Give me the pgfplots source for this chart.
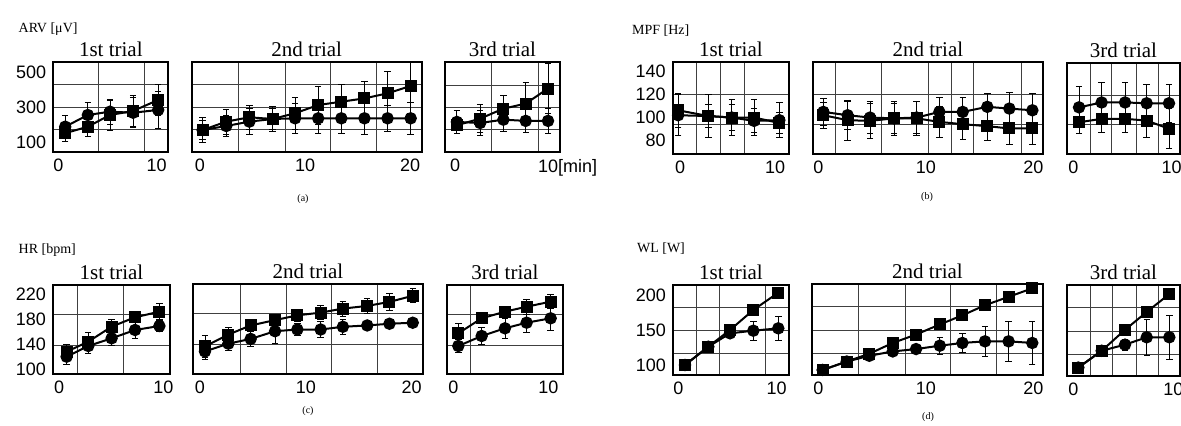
\documentclass[border=0pt]{standalone}
\usepackage{fontspec}
\setmainfont{Liberation Serif}
\newfontfamily\sansf{Liberation Sans}
\usepackage{pgfplots}
\pgfplotsset{compat=1.18}

\newcommand\tickf{\sansf\fontsize{9}{10}\selectfont}
\newcommand\titlef{\fontsize{10.5}{11}\selectfont}

\pgfplotsset{
  trial/.style={scale only axis, anchor=south west,
    axis line style={line width=0.85pt},
    tick style={draw=none},
    grid=major, grid style={line width=0.3pt, black!75},
    xticklabels={}, yticklabels={},
    extra x tick style={grid=none},
    extra y tick style={grid=none},
    tick label style={font=\tickf},
    /pgf/number format/assume math mode=true,
    title style={font=\titlef, at={(0.5,1)}, anchor=south, inner sep=1.5pt, yshift=-5pt}},
  ser/.style={black, line width=1pt, mark=square*, mark size=2.5pt},
  eb/.style={error bars/y dir=both, error bars/y explicit,
    error bars/error bar style={line width=0.45pt},
    error bars/error mark options={rotate=90, mark size=1.6pt, line width=0.45pt}},
  sq/.style={ser, eb},
  ci/.style={ser, eb, mark=*, mark size=2.6pt},
  tenmin/.style={extra x ticks={0,10}, extra x tick labels={0,10}},
  twentymin/.style={extra x ticks={0,10,20}, extra x tick labels={0,10,20}},
}

\begin{document}
\begin{tikzpicture}
\useasboundingbox (0,0) rectangle (590.5pt,213pt);

% ---------------- (a) ARV ----------------
\node[anchor=west, font=\fontsize{7}{8}\selectfont] at (5.8pt,198.5pt) {ARV [μV]};
\begin{axis}[trial, tenmin, at={(26.65pt,137.15pt)}, width=57.5pt, height=45pt,
  xmin=-0.51, xmax=11.18, ymin=47, ymax=562,
  xtick={4.1,8.7}, ytick={175,300,430},
  extra y ticks={100,300,500}, extra y tick labels={100,300,500}, title={1st trial}]
\addplot[sq] coordinates {(0.7,153)+-(0,50) (3.0,190)+-(0,57) (5.25,257)+-(0,86) (7.6,280)+-(0,86) (10.15,343)+-(0,86)};
\addplot[ci] coordinates {(0.7,190)+-(0,67) (3.0,257)+-(0,69) (5.25,276)+-(0,71) (7.6,270)+-(0,86) (10.15,286)+-(0,105)};
\end{axis}
\begin{axis}[trial, twentymin, at={(95.85pt,137.15pt)}, width=115pt, height=45pt,
  xmin=-0.79, xmax=21.1, ymin=47, ymax=562,
  xtick={3.65,8.1,12.4,16.8}, ytick={175,300,430}, title={2nd trial}]
\addplot[sq] coordinates {(0.25,171)+-(0,73) (2.5,219)+-(0,71) (4.7,244)+-(0,70) (6.9,234)+-(0,61) (9.05,267)+-(0,91) (11.25,314)+-(0,109) (13.45,333)+-(0,101) (15.65,352)+-(0,99) (17.85,381)+-(0,128) (20.05,423)+-(0,158)};
\addplot[ci] coordinates {(0.25,171)+-(0,53) (2.5,194)+-(0,61) (4.7,219)+-(0,76) (6.9,234)+-(0,72) (9.05,238)+-(0,86) (11.25,238)+-(0,86) (13.45,238)+-(0,86) (15.65,238)+-(0,91) (17.85,238)+-(0,76) (20.05,238)+-(0,90)};
\end{axis}
\begin{axis}[trial, at={(222.5pt,137pt)}, width=57.5pt, height=45pt,
  xmin=-1.08, xmax=11.29, ymin=47, ymax=562,
  xtick={3.9,8.96}, ytick={175,300,430},
  extra x ticks={0,10}, extra x tick labels={0,10\rlap{[min]}}, title={3rd trial}]
\addplot[sq] coordinates {(0.2,200)+-(0,47) (2.7,238)+-(0,80) (5.2,295)+-(0,76) (7.6,324)+-(0,123) (10.0,410)+-(0,142)};
\addplot[ci] coordinates {(0.2,219)+-(0,66) (2.7,213)+-(0,70) (5.2,232)+-(0,70) (7.6,225)+-(0,68) (10.0,225)+-(0,72)};
\end{axis}
\node[font=\fontsize{5}{6}\selectfont] at (151.5pt,113.5pt) {(a)};

% ---------------- (b) MPF ----------------
\node[anchor=west, font=\fontsize{7}{8}\selectfont] at (312.5pt,197.5pt) {MPF [Hz]};
\begin{axis}[trial, tenmin, at={(336.35pt,136pt)}, width=58.15pt, height=46pt,
  xmin=-0.77, xmax=11.47, ymin=68, ymax=148,
  xtick={1.76,4.28,6.74}, ytick={94,120},
  extra y ticks={80,100,120,140}, extra y tick labels={80,100,120,140}, title={1st trial}]
\addplot[sq] coordinates {(-0.2,106)+-(0,15) (2.98,101)+-(0,10) (5.44,99.7)+-(0,16) (7.79,99.7)+-(0,16) (10.45,95)+-(0,9)};
\addplot[ci] coordinates {(-0.2,101.7)+-(0,18) (2.98,101)+-(0,19) (5.44,99.7)+-(0,11) (7.79,96.8)+-(0,10.5) (10.45,97.4)+-(0,15)};
\end{axis}
\begin{axis}[trial, twentymin, at={(406.35pt,136pt)}, width=115.15pt, height=46pt,
  xmin=-0.52, xmax=20.9, ymin=68, ymax=148,
  xtick={1.55,5.9,10.2,12.4,14.4,18.9}, ytick={94,120}, title={2nd trial}]
\addplot[sq] coordinates {(0.47,101.7)+-(0,11.5) (2.73,97.4)+-(0,17.4) (4.81,96.8)+-(0,15.3) (7.04,99)+-(0,13) (9.15,99)+-(0,14.7) (11.26,95.9)+-(0,13.6) (13.43,93.9)+-(0,13.3) (15.72,92.2)+-(0,12.8) (17.77,90.2)+-(0,13.7) (19.91,90.2)+-(0,13.7)};
\addplot[ci] coordinates {(0.47,104.6)+-(0,11.7) (2.73,101.7)+-(0,12.2) (4.81,99.7)+-(0,13.6) (7.04,99)+-(0,15) (9.15,99.7)+-(0,14) (11.26,104.6)+-(0,13) (13.43,104.6)+-(0,13) (15.72,109)+-(0,12) (17.77,107.5)+-(0,13.7) (19.91,106)+-(0,15)};
\end{axis}
\begin{axis}[trial, tenmin, at={(533.5pt,136pt)}, width=56.5pt, height=45.5pt,
  xmin=-0.64, xmax=10.85, ymin=68, ymax=148,
  xtick={1.7,3.9,6.4,8.6}, ytick={94,120}, title={3rd trial}]
\addplot[sq] coordinates {(0.58,95.9)+-(0,10) (2.88,98.9)+-(0,11.7) (5.26,98.9)+-(0,12.4) (7.46,97.4)+-(0,15) (9.73,90.2)+-(0,17.4)};
\addplot[ci] coordinates {(0.58,109)+-(0,18) (2.88,113.3)+-(0,17.4) (5.26,113.3)+-(0,17.4) (7.46,112.6)+-(0,16.7) (9.73,112.6)+-(0,16.7)};
\end{axis}
\node[font=\fontsize{5}{6}\selectfont] at (463.5pt,114.5pt) {(b)};

% ---------------- (c) HR ----------------
\node[anchor=west, font=\fontsize{7}{8}\selectfont] at (5.8pt,88pt) {HR [bpm]};
\begin{axis}[trial, tenmin, at={(26.5pt,26pt)}, width=58.5pt, height=44.5pt,
  xmin=-0.6, xmax=10.64, ymin=92.5, ymax=234.9,
  xtick={1.73,6.2}, ytick={139,188},
  extra y ticks={100,140,180,220}, extra y tick labels={100,140,180,220}, title={1st trial}]
\addplot[sq] coordinates {(0.71,128.2)+-(0,12) (2.79,144.2)+-(0,14) (5.03,168.2)+-(0,12) (7.28,183.2)+-(0,7) (9.62,192.2)+-(0,13)};
\addplot[ci] coordinates {(0.71,120.2)+-(0,13) (2.79,137.3)+-(0,12) (5.03,149.6)+-(0,11) (7.28,162.9)+-(0,13) (9.62,169.3)+-(0,9)};
\end{axis}
\begin{axis}[trial, twentymin, at={(96.5pt,26pt)}, width=115pt, height=45pt,
  xmin=-0.66, xmax=21.07, ymin=92.5, ymax=234.9,
  xtick={3.78,8.13,12.45,16.76}, ytick={139,188}, title={2nd trial}]
\addplot[sq] coordinates {(0.47,136.2)+-(0,17) (2.68,154.9)+-(0,12) (4.79,169.3)+-(0,10) (7.09,177.8)+-(0,9) (9.2,185.3)+-(0,10) (11.4,189.6)+-(0,11) (13.5,196)+-(0,12) (15.8,200.2)+-(0,12) (17.9,206.6)+-(0,13) (20.1,216.2)+-(0,11)};
\addplot[ci] coordinates {(0.47,128.2)+-(0,13) (2.68,140.5)+-(0,10) (4.79,148)+-(0,12) (7.09,160.2)+-(0,19) (9.2,162.9)+-(0,10) (11.4,162.9)+-(0,12) (13.5,167.2)+-(0,12) (15.8,169.3)+-(0,6) (17.9,172)+-(0,4) (20.1,173.6)+-(0,3)};
\end{axis}
\begin{axis}[trial, tenmin, at={(223.5pt,26pt)}, width=58pt, height=44.5pt,
  xmin=-0.66, xmax=11.55, ymin=92.5, ymax=234.9,
  xtick={1.83}, ytick={139,188}, title={3rd trial}]
\addplot[sq] coordinates {(0.53,157.6)+-(0,16) (2.99,181.6)+-(0,8) (5.44,192.2)+-(0,8) (7.72,200.2)+-(0,12) (10.25,208.2)+-(0,11)};
\addplot[ci] coordinates {(0.53,137.3)+-(0,11) (2.99,153.3)+-(0,13) (5.44,165.6)+-(0,16) (7.72,174.6)+-(0,16) (10.25,181.6)+-(0,20)};
\end{axis}
\node[font=\fontsize{5}{6}\selectfont] at (154pt,7.5pt) {(c)};

% ---------------- (d) WL ----------------
\node[anchor=west, font=\fontsize{7}{8}\selectfont] at (315pt,88.5pt) {WL [W]};
\begin{axis}[trial, tenmin, at={(336.5pt,25.5pt)}, width=58pt, height=45pt,
  xmin=-0.54, xmax=11.26, ymin=85.6, ymax=215.4,
  xtick={1.8,4.17,8.82}, ytick={117,150,183},
  extra y ticks={100,150,200}, extra y tick labels={100,150,200}, title={1st trial}]
\addplot[ser] coordinates {(0.68,100) (3.05,126.4) (5.26,150.5) (7.63,179.4) (10.17,204.3)};
\addplot[ci] coordinates {(0.68,100)+-(0,0) (3.05,126.4)+-(0,2) (5.26,145.7)+-(0,6) (7.63,149.5)+-(0,14) (10.17,152.9)+-(0,17)};
\end{axis}
\begin{axis}[trial, twentymin, at={(406pt,25.5pt)}, width=115.5pt, height=45.5pt,
  xmin=-0.59, xmax=20.9, ymin=85.6, ymax=215.4,
  xtick={3.72,8.06,12.3,16.6}, ytick={117,150,183}, title={2nd trial}]
\addplot[ser] coordinates {(0.4,92.8) (2.64,104.8) (4.74,115.9) (6.92,131.3) (9.09,143.3) (11.3,157.7) (13.4,170.7) (15.5,185.1) (17.7,197.1) (19.9,209.2)};
\addplot[ci] coordinates {(0.4,92.8)+-(0,0) (2.64,104.8)+-(0,2) (4.74,113)+-(0,4) (6.92,119.2)+-(0,5) (9.09,122.6)+-(0,6) (11.3,127.4)+-(0,12) (13.4,131.3)+-(0,14) (15.5,133.6)+-(0,21) (17.7,133.6)+-(0,28) (19.9,131.3)+-(0,30)};
\end{axis}
\begin{axis}[trial, tenmin, at={(533.5pt,25pt)}, width=56.5pt, height=45.5pt,
  xmin=-0.63, xmax=10.67, ymin=85.6, ymax=215.4,
  xtick={1.67,3.93,6.27,8.5}, ytick={117,150,183}, title={3rd trial}]
\addplot[ser] coordinates {(0.5,97.6) (2.84,121.6) (5.17,151.5) (7.34,176.9) (9.6,202.5)};
\addplot[ci] coordinates {(0.5,97.6)+-(0,0) (2.84,121.6)+-(0,2) (5.17,130.3)+-(0,8) (7.34,140.8)+-(0,26) (9.6,140.8)+-(0,31)};
\end{axis}
\node[font=\fontsize{5}{6}\selectfont] at (464pt,4.5pt) {(d)};
\end{tikzpicture}
\end{document}
